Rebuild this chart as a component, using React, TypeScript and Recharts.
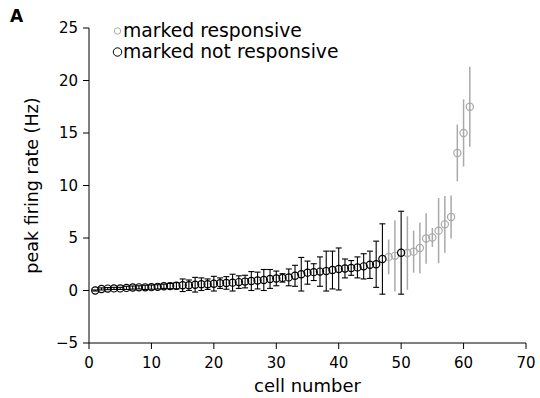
import { ScatterChart, Scatter, XAxis, YAxis, ErrorBar } from 'recharts'

const cellNumbers = [
  1, 2, 3, 4, 5, 6, 7, 8, 9, 10, 11, 12, 13, 14, 15, 16, 17, 18, 19, 20,
  21, 22, 23, 24, 25, 26, 27, 28, 29, 30, 31, 32, 33, 34, 35, 36, 37, 38, 39, 40,
  41, 42, 43, 44, 45, 46, 47, 48, 49, 50, 51, 52, 53, 54, 55, 56, 57, 58, 59, 60, 61,
]

const peakRates = [
  0.0, 0.15, 0.18, 0.2, 0.2, 0.25, 0.28, 0.3, 0.3, 0.32, 0.35, 0.4, 0.42, 0.45, 0.5, 0.5, 0.55, 0.6, 0.6, 0.65,
  0.7, 0.72, 0.75, 0.8, 0.85, 0.9, 0.95, 1.0, 1.1, 1.15, 1.2, 1.25, 1.4, 1.55, 1.7, 1.75, 1.8, 1.85, 1.95, 2.05,
  2.1, 2.15, 2.2, 2.3, 2.45, 2.5, 3.0, 3.2, 3.3, 3.6, 3.57, 3.7, 4.05, 4.95, 5.05, 5.7, 6.3, 7.0, 13.1, 15.0, 17.5,
]

const rateErrors = [
  0.05, 0.1, 0.1, 0.1, 0.1, 0.15, 0.15, 0.15, 0.2, 0.2, 0.2, 0.2, 0.25, 0.3, 0.6, 0.5, 0.7, 0.6, 0.5, 0.7,
  0.5, 0.6, 0.8, 0.6, 0.6, 0.9, 0.8, 1.0, 0.9, 0.7, 0.4, 0.8, 1.0, 1.6, 1.1, 0.8, 1.4, 1.9, 1.8, 2.0,
  0.9, 0.7, 1.0, 1.2, 1.3, 2.2, 3.35, 1.65, 3.4, 3.95, 3.5, 2.0, 2.4, 2.4, 0.9, 3.1, 2.7, 2.05, 2.7, 3.2, 3.8,
]

const responsiveCells = [48, 49, 51, 52, 53, 54, 55, 56, 57, 58, 59, 60, 61]

const xTicks = [0, 10, 20, 30, 40, 50, 60, 70]
const yTicks = [-5, 0, 5, 10, 15, 20, 25]

const GRAY = '#a9a9a9'
const FONT = '"DejaVu Sans", sans-serif'

const allPoints = cellNumbers.map((cell, i) => ({ cell, rate: peakRates[i], err: rateErrors[i] }))
const responsiveData = allPoints.filter((p) => responsiveCells.includes(p.cell))
const notResponsiveData = allPoints.filter((p) => !responsiveCells.includes(p.cell))

const ring = (color: string) => (props: any) => (
  <circle cx={props.cx} cy={props.cy} r={3.6} fill="none" stroke={color} strokeWidth={1.2} />
)

function LegendBox() {
  const row = (label: string, color: string, r: number) => (
    <div style={{ display: 'flex', alignItems: 'center', height: 21 }}>
      <svg width={11} height={12} style={{ marginRight: 0 }}>
        <circle cx={5.5} cy={6} r={r} fill="none" stroke={color} strokeWidth={1} />
      </svg>
      <span style={{ fontFamily: FONT, fontSize: 18.8, color: '#000' }}>{label}</span>
    </div>
  )
  return (
    <div style={{ position: 'absolute', left: 112, top: 20 }}>
      {row('marked responsive', GRAY, 3.2)}
      {row('marked not responsive', '#000', 4.2)}
    </div>
  )
}

export default function App() {
  return (
    <div style={{ position: 'absolute', left: 0, top: 0, width: 540, height: 398, background: '#fff' }}>
      <ScatterChart width={540} height={398} margin={{ top: 28, right: 14, bottom: 0, left: 0 }}>
        <XAxis
          type="number"
          dataKey="cell"
          domain={[0, 70]}
          ticks={xTicks}
          height={55}
          tickSize={6}
          tickMargin={8}
          stroke="#000"
          tick={{ fill: '#000', fontSize: 15, fontFamily: FONT }}
          label={{ value: 'cell number', position: 'insideBottom', offset: 6, fill: '#000', fontSize: 18, fontFamily: FONT }}
        />
        <YAxis
          type="number"
          dataKey="rate"
          domain={[-5, 25]}
          ticks={yTicks}
          width={89}
          tickSize={6}
          tickMargin={5}
          stroke="#000"
          tickFormatter={(v: number) => (v < 0 ? '\u2212' + Math.abs(v) : String(v))}
          tick={{ fill: '#000', fontSize: 15, fontFamily: FONT }}
          label={{ value: 'peak firing rate (Hz)', angle: -90, position: 'insideLeft', offset: 32, fill: '#000', fontSize: 17.5, fontFamily: FONT, style: { textAnchor: 'middle' } }}
        />
        <Scatter name="marked responsive" data={responsiveData} shape={ring(GRAY)} isAnimationActive={false}>
          <ErrorBar dataKey="err" direction="y" width={0} stroke={GRAY} strokeWidth={1.5} isAnimationActive={false} />
        </Scatter>
        <Scatter name="marked not responsive" data={notResponsiveData} shape={ring('#000')} isAnimationActive={false}>
          <ErrorBar dataKey="err" direction="y" width={3} stroke="#000" strokeWidth={1.1} isAnimationActive={false} />
        </Scatter>
      </ScatterChart>
      <LegendBox />
      <div style={{ position: 'absolute', left: 10, top: 6, fontFamily: FONT, fontWeight: 'bold', fontSize: 17 }}>A</div>
    </div>
  )
}
